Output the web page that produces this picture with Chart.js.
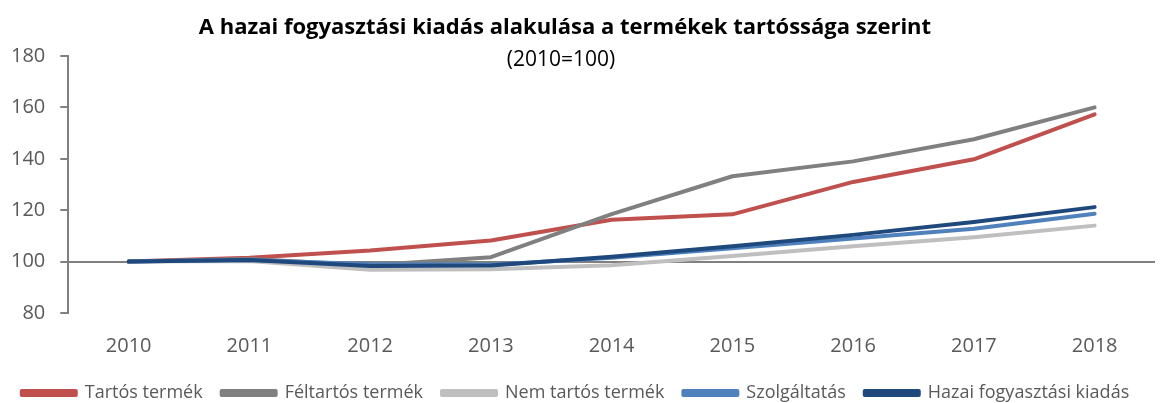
<!DOCTYPE html>
<html>
<head>
<meta charset="utf-8">
<script src="https://cdn.jsdelivr.net/npm/chart.js@4.4.1/dist/chart.umd.min.js"></script>
<style>
  html, body { margin: 0; padding: 0; background: #fff; }
  #wrap { position: relative; width: 1168px; height: 403px; }
  #title { position: absolute; left: 0; top: 10px; width: 1130px; text-align: center;
           font-family: "Open Sans", sans-serif; font-weight: bold; font-size: 22px; color: #000; }
  #subtitle { position: absolute; left: 0; top: 44px; width: 1122px; text-align: center;
           font-family: "Open Sans", sans-serif; font-size: 21px; color: #000; }
</style>
</head>
<body>
<div id="wrap">
  <canvas id="mycanvas" width="1168" height="403"></canvas>
  <div id="title">A hazai fogyasztási kiadás alakulása a termékek tartóssága szerint</div>
  <div id="subtitle">(2010=100)</div>
</div>
<script>
// data
var years = ["2010", "2011", "2012", "2013", "2014", "2015", "2016", "2017", "2018"];
var seriesNames = ["Tartós termék", "Féltartós termék", "Nem tartós termék", "Szolgáltatás", "Hazai fogyasztási kiadás"];
var tartos     = [100, 101.5, 104.3, 108.2, 116.3, 118.4, 131.0, 139.8, 157.3];
var feltartos  = [100, 101.0,  98.6, 101.7, 118.5, 133.2, 139.0, 147.6, 160.0];
var nemTartos  = [100, 100.2,  96.8,  97.0,  98.6, 102.2, 106.0, 109.5, 114.0];
var szolg      = [100, 100.6,  99.0,  98.8, 101.5, 105.2, 109.0, 112.8, 118.6];
var hazai      = [100, 100.6,  98.3,  98.5, 101.9, 106.0, 110.4, 115.4, 121.2];
var colors = ["#C0504D", "#808080", "#BFBFBF", "#4F81BD", "#1F497D"];

var values = [tartos, feltartos, nemTartos, szolg, hazai];
var datasets = [];
for (var i = 0; i < values.length; i++) {
  datasets.push({
    label: seriesNames[i],
    data: values[i],
    borderColor: colors[i],
    backgroundColor: colors[i],
    borderWidth: 4,
    borderCapStyle: "round",
    borderJoinStyle: "round",
    pointRadius: 0,
    tension: 0,
    fill: false,
    order: values.length - 1 - i   // last series on top, like Excel
  });
}

var axisGrey = "#808080";
var ctx = document.getElementById("mycanvas");
var chart = new Chart(ctx, {
  type: "line",
  data: { labels: years, datasets: datasets },
  options: {
    responsive: false,
    animation: false,
    layout: { padding: { top: 56, left: -4, right: 13, bottom: -9 } },
    scales: {
      x: {
        offset: true,
        grid: { display: false, drawTicks: false },
        border: { display: false },
        ticks: { color: "#595959", padding: 21, font: { family: "Open Sans", size: 20 } },
        afterFit: function(scale) { scale.height -= 14; }
      },
      y: {
        min: 80,
        max: 180,
        ticks: { stepSize: 20, color: "#595959", padding: 15, font: { family: "Open Sans", size: 20 } },
        grid: {
          color: function(c) { return c.tick && c.tick.value === 100 ? axisGrey : "transparent"; },
          tickColor: axisGrey,
          tickLength: 8,
          lineWidth: 2
        },
        border: { display: true, color: axisGrey, width: 2 }
      }
    },
    plugins: {
      legend: {
        position: "bottom",
        labels: {
          boxWidth: 54,
          boxHeight: 4,
          padding: 19,
          color: "#595959",
          font: { family: "Open Sans", size: 18 },
          sort: function(a, b) { return a.datasetIndex - b.datasetIndex; }
        }
      },
      tooltip: { enabled: false }
    }
  }
});
</script>
</body>
</html>
